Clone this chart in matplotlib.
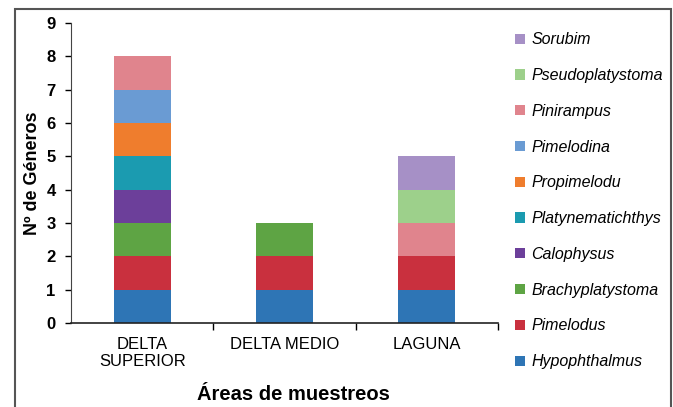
import matplotlib.pyplot as plt
from matplotlib.patches import Rectangle

plt.rcParams['font.family'] = ['Liberation Sans', 'DejaVu Sans']

# Áreas de muestreo
areas = ['DELTA\nSUPERIOR', 'DELTA MEDIO', 'LAGUNA']

# Géneros (orden de apilado, de abajo hacia arriba)
generos = ['Hypophthalmus', 'Pimelodus', 'Brachyplatystoma', 'Calophysus',
           'Platynematichthys', 'Propimelodu', 'Pimelodina', 'Pinirampus',
           'Pseudoplatystoma', 'Sorubim']

# presencia de cada género por área
hypophthalmus = [1, 1, 1]
pimelodus = [1, 1, 1]
brachyplatystoma = [1, 1, 0]
calophysus = [1, 0, 0]
platynematichthys = [1, 0, 0]
propimelodu = [1, 0, 0]
pimelodina = [1, 0, 0]
pinirampus = [1, 0, 1]
pseudoplatystoma = [0, 0, 1]
sorubim = [0, 0, 1]

valores = [hypophthalmus, pimelodus, brachyplatystoma, calophysus,
           platynematichthys, propimelodu, pimelodina, pinirampus,
           pseudoplatystoma, sorubim]

colores = ['#2e75b5', '#c9303e', '#5ea444', '#6c3f9a', '#1b9bb0',
           '#ef7d2d', '#6a9bd3', '#e0848d', '#9dd08b', '#a690c6']

fig = plt.figure(figsize=(6.73, 4.07), dpi=100)
ax = fig.add_axes([71/673, 1 - 323/407, 427/673, 300/407])

# marco de la figura
fig.patches.append(Rectangle((15/673, -0.05), 656/673, 1.05 - 9/407,
                             transform=fig.transFigure, fill=False,
                             edgecolor='#555555', linewidth=1.5))

x = range(len(areas))
base = [0, 0, 0]
handles = []
for nombre, vals, c in zip(generos, valores, colores):
    b = ax.bar(x, vals, 0.4, bottom=base, color=c, label=nombre)
    handles.append(b)
    base = [p + v for p, v in zip(base, vals)]

ax.set_xlim(-0.5, 2.5)
ax.set_ylim(0, 9)
ax.set_yticks(range(10))
ax.set_yticklabels([str(i) for i in range(10)], fontsize=12, fontweight='bold')
ax.set_xticks(list(x))
ax.set_xticklabels(areas, fontsize=12)
ax.tick_params(axis='x', length=0, pad=10)
ax.set_xticks([0.5, 1.5, 2.5], minor=True)
ax.tick_params(axis='x', which='minor', length=5, width=1)
ax.tick_params(axis='y', length=4, width=1, pad=7)
for s in ['top', 'right']:
    ax.spines[s].set_visible(False)
ax.spines['left'].set_color('#444444')
ax.spines['bottom'].set_color('#222222')
ax.spines['bottom'].set_linewidth(1.2)

ax.set_ylabel('Nº de Géneros', fontsize=13, fontweight='bold', labelpad=4)
fig.text(293/673, 1 - 395/407, 'Áreas de muestreos', fontsize=14.5,
         fontweight='bold', ha='center', va='center')

leg = fig.legend(handles[::-1], generos[::-1], loc='upper left',
                 bbox_to_anchor=(501/673, 1 - 18/407), frameon=False,
                 prop={'style': 'italic', 'size': 11.5}, handlelength=0.6,
                 handleheight=0.6, handletextpad=0.4, labelspacing=1.3)

fig.savefig('out.png', dpi=100)
